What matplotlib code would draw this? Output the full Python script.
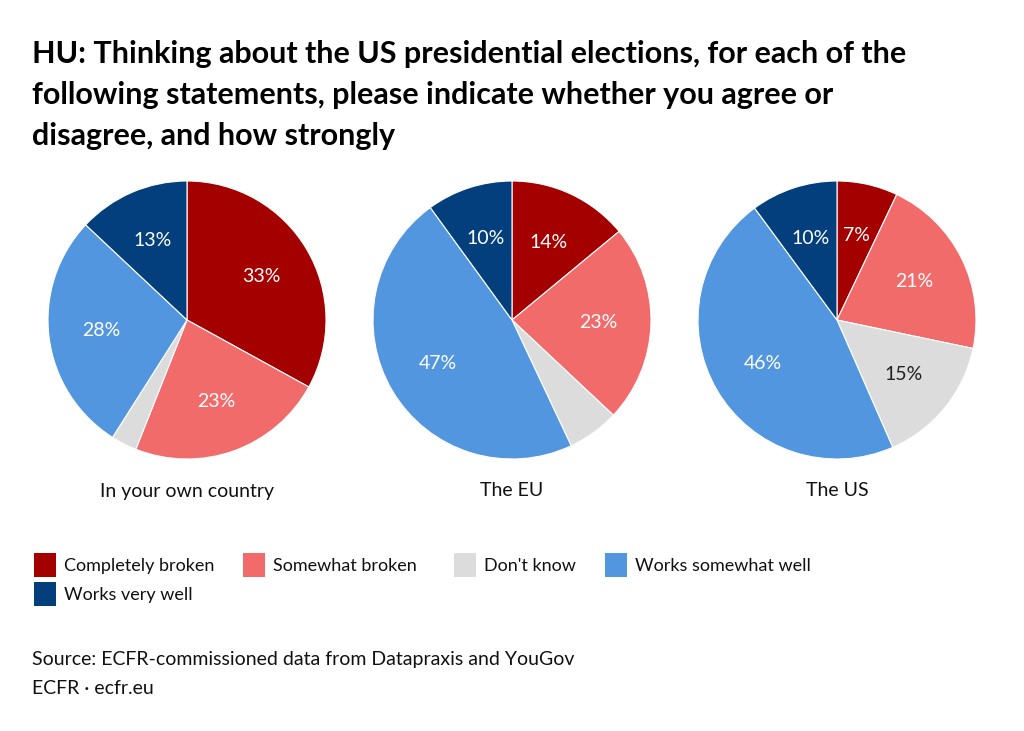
import matplotlib.pyplot as plt
from matplotlib.patches import Rectangle

plt.rcParams['font.family'] = ['Lato', 'DejaVu Sans']

# data
panels = ['In your own country', 'The EU', 'The US']
categories = ['Completely broken', 'Somewhat broken', "Don't know",
              'Works somewhat well', 'Works very well']
own_country = [33, 23, 3, 28, 13]
eu = [14, 23, 6, 47, 10]
us = [7, 21, 15, 46, 10]
colors = ['#a50000', '#f26b6b', '#dcdcdc', '#5396e0', '#033f7d']
label_colors = ['white', 'white', '#222222', 'white', 'white']

W, H = 1024, 731
fig = plt.figure(figsize=(W / 100, H / 100), dpi=100)

fig.text(32 / W, 1 - 40 / H,
         'HU: Thinking about the US presidential elections, for each of the\n'
         'following statements, please indicate whether you agree or\n'
         'disagree, and how strongly',
         fontsize=22, fontweight='bold', va='top', ha='left',
         linespacing=1.56, color='#000000')

centers = [187, 512, 837]
r = 139
cy = 320
for cx, name, vals in zip(centers, panels, [own_country, eu, us]):
    ax = fig.add_axes([(cx - r) / W, 1 - (cy + r) / H, 2 * r / W, 2 * r / H])
    wedges, texts, autotexts = ax.pie(
        vals, colors=colors, startangle=90, counterclock=False,
        autopct=lambda p: f'{p:.0f}%' if p >= 6.5 else '',
        pctdistance=0.62, radius=1,
        wedgeprops=dict(edgecolor='white', linewidth=0.8),
        textprops=dict(color='white', fontsize=14))
    for t, c in zip(autotexts, label_colors):
        t.set_color(c)
    ax.set_xlim(-1, 1)
    ax.set_ylim(-1, 1)
    ax.set_aspect('equal')
    fig.text(cx / W, 1 - 491 / H, name, ha='center', va='center',
             fontsize=14, color='#111111')

# legend
legend_items = [(34, 565), (243, 565), (454, 565), (605, 565), (34, 594)]
for (x, y), lab, c in zip(legend_items, categories, colors):
    fig.patches.append(Rectangle((x / W, 1 - (y + 12) / H), 22 / W, 24 / H,
                                 transform=fig.transFigure, facecolor=c,
                                 edgecolor='none'))
    fig.text((x + 30) / W, 1 - (y + 1) / H, lab, ha='left', va='center',
             fontsize=13, color='#111111')

fig.text(32 / W, 1 - 660 / H,
         'Source: ECFR-commissioned data from Datapraxis and YouGov',
         ha='left', va='center', fontsize=14, color='#111111')
fig.text(32 / W, 1 - 688 / H, 'ECFR \u00b7 ecfr.eu',
         ha='left', va='center', fontsize=14, color='#111111')

fig.savefig('out.png', dpi=100, facecolor='white')
